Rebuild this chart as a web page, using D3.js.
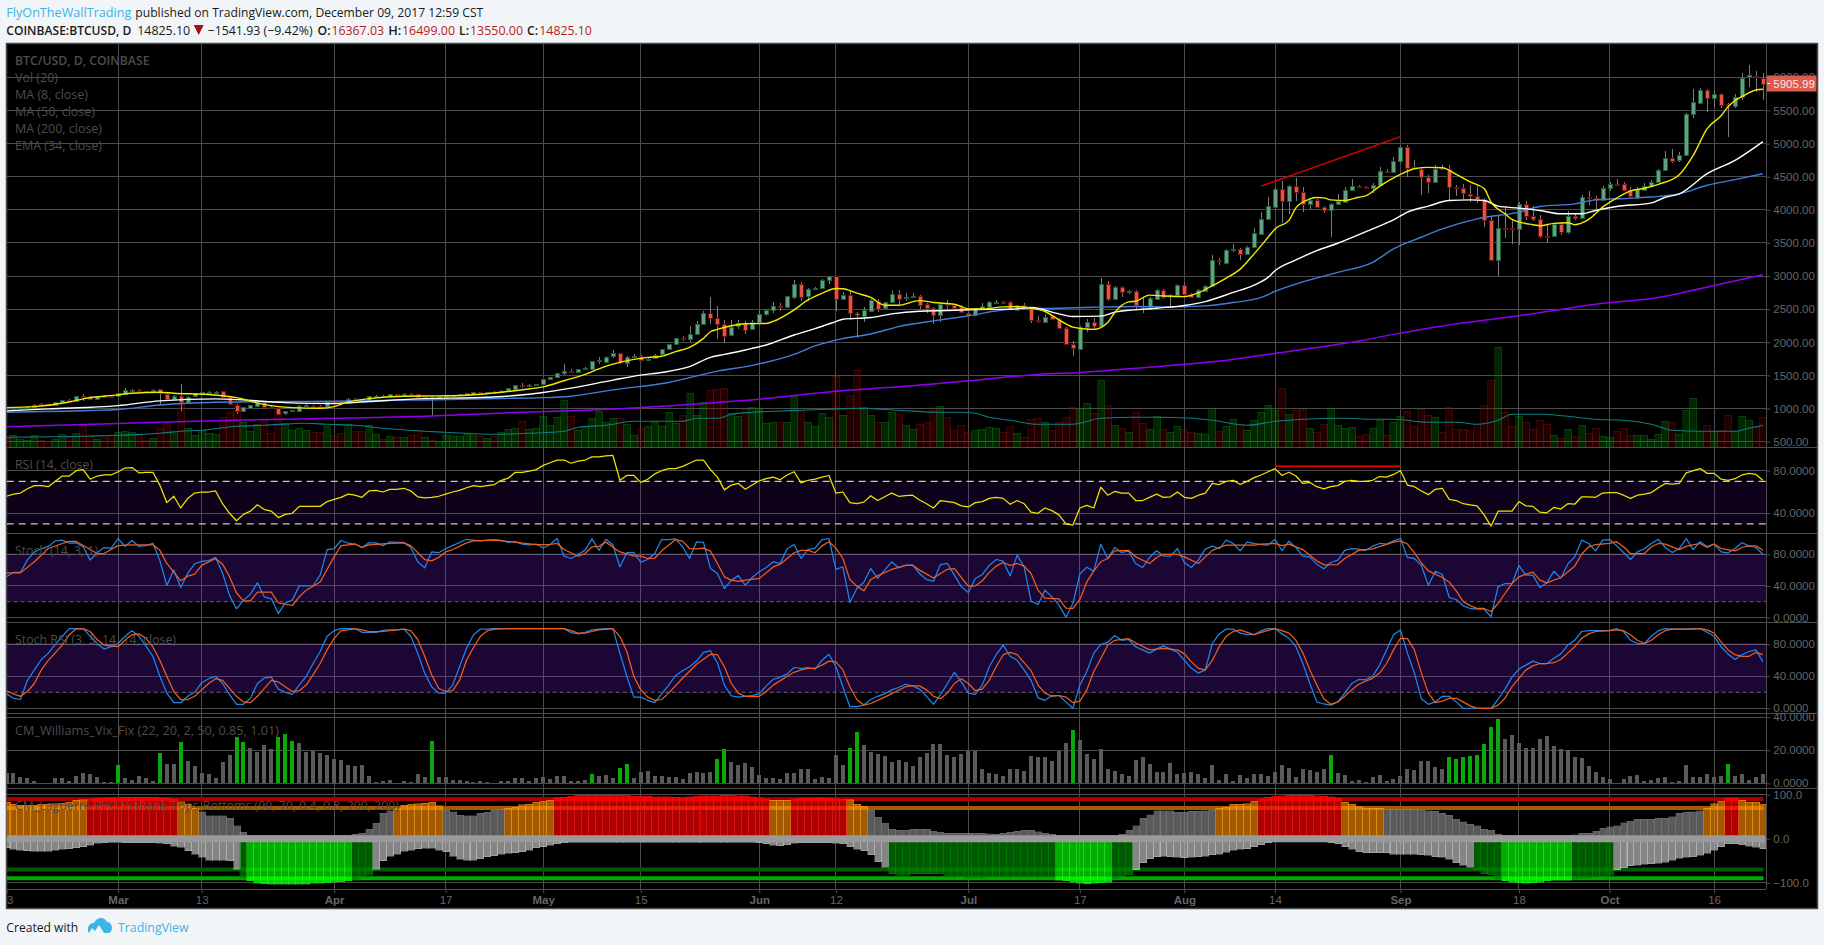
<!DOCTYPE html>
<html><head><meta charset="utf-8">
<script src="https://cdn.jsdelivr.net/npm/d3@7/dist/d3.min.js"></script>
<style>html,body{margin:0;padding:0;background:#f1f5f8;overflow:hidden}svg{display:block}</style>
</head><body><svg id="c" width="1824" height="945"></svg>
<script>
const firstDay = "2017-02-13", lastDay = "2017-10-23";
const tickDates = ["2017-02-13","2017-03-01","2017-03-13","2017-04-01","2017-04-17","2017-05-01","2017-05-15","2017-06-01","2017-06-12","2017-07-01","2017-07-17","2017-08-01","2017-08-14","2017-09-01","2017-09-18","2017-10-01","2017-10-16"];
const tickLabels = ["13","Mar","13","Apr","17","May","15","Jun","12","Jul","17","Aug","14","Sep","18","Oct","16"];
const opens = [1000,995,1008,1008,1025,1065,1062,1055,1090,1128,
1118,1188,1180,1150,1192,1195,1192,1225,1275,1285,
1265,1265,1288,1225,1150,1195,1100,1178,1228,1243,
1240,1258,1168,1060,968,1005,1045,1103,1030,1010,
925,955,975,1045,1045,1040,1035,1095,1095,1095,
1150,1140,1125,1185,1195,1180,1215,1210,1222,1215,
1172,1180,1175,1185,1190,1195,1210,1225,1245,1235,
1250,1248,1270,1283,1349,1352,1355,1370,1440,1470,
1525,1560,1540,1595,1597,1715,1705,1785,1835,1692,
1790,1800,1742,1768,1813,1894,1968,2060,2050,2120,
2270,2440,2365,2275,2100,2245,2290,2195,2300,2420,
2480,2545,2525,2695,2880,2690,2810,2815,2935,3000,
2645,2715,2440,2405,2480,2630,2510,2600,2725,2670,
2680,2700,2575,2515,2410,2572,2565,2530,2450,2420,
2510,2540,2605,2615,2610,2500,2560,2515,2335,2310,
2390,2345,2210,1970,1905,2230,2305,2250,2880,2660,
2835,2760,2770,2555,2530,2660,2790,2700,2720,2865,
2735,2690,2785,2843,3245,3200,3400,3410,3330,3435,
3640,3865,4055,4320,4145,4360,4270,4090,4150,4040,
4000,4085,4130,4300,4365,4340,4335,4380,4590,4570,
4740,4955,4640,4620,4500,4425,4625,4615,4345,4330,
4240,4210,4165,3845,3240,3725,3720,3710,4090,3905,
3865,3610,3605,3785,3665,3905,3880,4190,4175,4150,
4335,4395,4390,4300,4205,4310,4360,4425,4600,4775,
4740,4820,5440,5620,5815,5700,5755,5590,5570,5705,
5995,6020,5995];
const closes = [995,1008,1010,1030,1060,1060,1055,1095,1125,1118,
1190,1186,1150,1188,1190,1190,1232,1278,1285,1270,
1262,1285,1222,1150,1195,1102,1180,1228,1243,1245,
1252,1170,1060,965,1025,1050,1105,1028,1015,920,
960,975,1045,1048,1040,1037,1095,1090,1090,1152,
1142,1130,1185,1195,1180,1215,1210,1225,1218,1170,
1178,1170,1185,1190,1200,1215,1235,1250,1235,1250,
1240,1270,1305,1349,1345,1355,1370,1440,1470,1530,
1560,1550,1590,1605,1712,1730,1783,1833,1692,1783,
1795,1742,1755,1813,1894,1970,2060,2055,2120,2273,
2440,2360,2275,2100,2225,2290,2190,2300,2425,2485,
2545,2535,2695,2885,2690,2800,2820,2940,3000,2660,
2710,2440,2410,2490,2640,2510,2605,2725,2645,2690,
2695,2570,2510,2410,2575,2560,2525,2455,2420,2510,
2545,2610,2615,2605,2500,2555,2515,2335,2325,2380,
2340,2210,1970,1905,2235,2305,2250,2880,2660,2840,
2755,2770,2555,2540,2665,2790,2690,2720,2865,2735,
2690,2790,2855,3240,3230,3395,3410,3335,3440,3645,
3865,4055,4320,4145,4365,4270,4090,4150,4040,4000,
4090,4130,4305,4365,4350,4335,4380,4590,4580,4740,
4955,4645,4630,4500,4425,4615,4620,4350,4330,4250,
4210,4170,3850,3240,3720,3720,3715,4090,3910,3860,
3605,3605,3785,3665,3905,3875,4195,4180,4150,4330,
4390,4385,4300,4210,4320,4365,4425,4600,4775,4735,
4820,5440,5620,5815,5695,5755,5590,5585,5705,5995,
6030,6010,5905.99];
const highs = [1008,1015,1020,1040,1068,1085,1070,1100,1135,1140,
1195,1218,1190,1195,1200,1205,1240,1310,1295,1295,
1270,1290,1295,1232,1200,1370,1185,1235,1250,1268,
1258,1265,1175,1065,1030,1055,1110,1110,1035,1015,
965,980,1050,1065,1052,1050,1100,1100,1105,1165,
1165,1145,1195,1200,1200,1222,1225,1232,1230,1222,
1182,1185,1190,1195,1205,1220,1240,1255,1255,1255,
1258,1275,1310,1360,1385,1365,1378,1448,1480,1540,
1672,1590,1595,1620,1720,1780,1790,1880,1840,1790,
1825,1805,1765,1820,1900,1980,2070,2100,2240,2325,
2480,2690,2550,2340,2340,2330,2320,2330,2495,2495,
2605,2590,2700,2945,2905,2815,2830,2950,3005,3005,
2760,2775,2460,2530,2660,2650,2615,2790,2790,2740,
2750,2710,2590,2540,2590,2640,2575,2560,2465,2520,
2590,2630,2640,2630,2620,2570,2590,2525,2390,2420,
2410,2370,2230,2020,2245,2350,2370,2975,2920,2855,
2855,2795,2790,2680,2680,2800,2800,2730,2880,2890,
2750,2800,2870,3320,3280,3410,3480,3430,3450,3720,
3960,4200,4330,4430,4380,4480,4350,4170,4160,4050,
4100,4240,4350,4460,4380,4360,4400,4650,4610,4800,
4970,4985,4750,4640,4520,4680,4680,4680,4380,4390,
4380,4370,4180,3900,3920,4050,3850,4120,4130,4060,
3920,3790,3800,3820,3980,3950,4230,4280,4210,4360,
4420,4470,4420,4340,4350,4400,4450,4610,4890,4920,
4880,5460,5830,5840,5830,5800,5770,5610,5750,6070,
6180,6090,6070];
const lows = [985,990,1000,1002,1020,1045,1050,1050,1085,1110,
1112,1116,1145,1145,1182,1182,1185,1220,1268,1260,
1255,1260,1050,1145,1145,965,1090,1170,1220,1218,
1235,1160,1055,915,960,1000,1040,1020,1008,905,
900,950,970,1030,1030,1030,1030,1080,1080,1090,
1135,1120,1120,1178,1172,1175,1205,1205,1212,1165,
1165,900,1170,1180,1185,1190,1205,1220,1228,1230,
1235,1240,1265,1278,1310,1345,1350,1365,1435,1465,
1505,1545,1535,1580,1590,1670,1700,1770,1680,1630,
1760,1720,1735,1760,1810,1890,1960,2020,2010,2110,
2260,2270,2055,1990,2095,2200,2130,2190,2295,2390,
2450,2480,2520,2660,2620,2620,2800,2810,2880,2480,
2640,2330,2060,2300,2470,2465,2500,2595,2550,2620,
2670,2500,2450,2280,2300,2500,2510,2445,2410,2400,
2500,2530,2590,2590,2490,2490,2505,2290,2290,2290,
2330,2200,1960,1795,1895,2150,2200,2240,2620,2640,
2690,2730,2490,2440,2520,2650,2650,2530,2710,2720,
2680,2680,2770,2830,3170,3190,3370,3240,3320,3430,
3630,3850,4040,3800,3930,4140,3960,4010,4030,3950,
3590,4075,4100,4290,4340,4320,4250,4370,4560,4550,
4700,4500,4610,4230,4250,4415,4600,4150,4210,4160,
4120,4110,3740,3225,3000,3580,3480,3470,3850,3830,
3570,3500,3590,3620,3640,3840,3860,4080,4010,4140,
4280,4370,4280,4180,4160,4290,4345,4415,4590,4710,
4720,4810,5390,5590,5480,5550,5530,5100,5540,5660,
5855,5780,5660];
const volumes = [9,12,8,7,12,7,6,8,13,10,
14,22,11,8,10,12,15,16,15,12,
7,9,19,24,16,44,19,12,17,14,
13,30,35,44,25,16,23,27,14,36,
24,17,19,17,15,15,21,12,14,23,
16,16,22,13,8,11,10,10,12,17,
10,7,6,12,11,11,13,12,11,9,
11,15,18,19,26,18,19,31,22,30,
47,31,17,21,29,36,25,29,29,23,
12,19,21,25,21,35,24,32,54,32,
45,57,58,59,34,31,38,40,39,24,
25,25,25,51,36,25,21,34,30,71,
32,52,77,40,32,25,25,35,33,22,
18,23,25,37,41,30,17,22,15,17,
18,20,19,15,21,14,10,28,29,25,
17,25,30,40,39,44,34,67,42,22,
19,15,35,24,18,31,18,15,21,18,
15,14,13,39,16,21,28,23,17,27,
35,42,37,59,33,37,38,19,15,23,
39,22,19,20,11,13,19,27,12,25,
31,36,21,38,32,30,15,40,18,18,
17,23,42,67,100,35,21,31,25,18,
27,23,12,9,18,11,22,14,19,11,
10,16,19,12,12,12,8,13,26,25,
13,37,49,16,22,16,17,32,16,31,
27,20,30];
const volMA = [[0,10],[16,12],[22,14],[25,16],[28,17],[33,21],[37,22],[43,24],[46,23],[50,22],[54,19],[60,16],[63,15],[70,13],[75,14],[80,16],[82,20],[86,22],[90,26],[94,26],[97,26],[99,29],[102,29],[104,33],[107,35],[110,36],[114,37],[118,38],[122,39],[128,37],[134,35],[137,35],[139,34],[141,30],[144,27],[148,23],[153,23],[157,29],[162,30],[165,30],[170,29],[173,27],[178,22],[182,26],[186,28],[192,29],[196,28],[199,28],[204,25],[208,25],[211,23],[214,27],[216,33],[220,33],[224,31],[228,28],[232,27],[236,23],[239,17],[243,16],[248,16],[250,19],[252,22]];
const ma8 = [[0,1015],[4,1030],[9,1100],[11,1147],[16,1207],[18,1232],[22,1247],[24,1232],[29,1212],[33,1165],[37,1060],[39,1030],[41,1015],[45,1005],[47,1030],[49,1100],[52,1150],[57,1187],[62,1192],[66,1202],[71,1247],[74,1285],[77,1328],[80,1420],[83,1515],[85,1600],[87,1670],[90,1742],[92,1773],[94,1790],[96,1860],[98,1925],[100,2060],[101,2160],[102,2195],[104,2250],[106,2280],[109,2285],[110,2315],[113,2490],[115,2640],[117,2740],[119,2813],[120,2808],[122,2742],[124,2677],[126,2560],[128,2560],[131,2630],[133,2600],[136,2575],[138,2505],[140,2505],[143,2535],[145,2540],[147,2515],[149,2465],[151,2340],[153,2230],[155,2200],[156,2195],[158,2300],[159,2450],[161,2610],[162,2620],[164,2712],[166,2700],[169,2690],[171,2745],[173,2855],[175,2970],[177,3105],[179,3335],[181,3585],[182,3712],[184,3840],[185,4030],[187,4165],[188,4185],[189,4180],[190,4150],[192,4140],[194,4190],[195,4210],[197,4355],[200,4535],[202,4620],[204,4640],[206,4635],[208,4535],[210,4420],[212,4320],[213,4115],[215,3940],[216,3855],[219,3775],[220,3760],[222,3795],[224,3805],[225,3775],[227,3855],[229,4040],[231,4175],[233,4285],[235,4325],[237,4385],[240,4530],[242,4820],[244,5225],[246,5420],[247,5555],[248,5650],[249,5710],[251,5808],[252,5820]];
const ema34 = [[0,965],[6,995],[16,1045],[22,1116],[30,1147],[40,1090],[47,1076],[52,1106],[60,1150],[68,1167],[73,1197],[77,1243],[81,1308],[87,1430],[91,1505],[94,1545],[98,1632],[101,1773],[103,1818],[106,1884],[109,1960],[113,2110],[116,2207],[119,2313],[120,2349],[124,2374],[127,2430],[131,2470],[135,2480],[139,2495],[144,2500],[147,2525],[151,2430],[153,2390],[157,2395],[159,2455],[165,2515],[169,2555],[172,2615],[176,2753],[179,2864],[181,2980],[182,3081],[185,3243],[188,3384],[191,3495],[196,3712],[199,3848],[201,3965],[204,4055],[207,4140],[210,4150],[212,4140],[214,4055],[217,4025],[220,3990],[223,3940],[226,3940],[228,3990],[231,4050],[236,4105],[238,4190],[240,4240],[244,4545],[248,4747],[252,5030]];
const ma50 = [[0,945],[12,970],[16,985],[22,1055],[30,1096],[40,1106],[47,1110],[56,1126],[60,1130],[71,1152],[76,1162],[81,1187],[87,1283],[95,1394],[102,1566],[107,1652],[113,1818],[116,1945],[120,2056],[124,2126],[128,2237],[133,2323],[138,2399],[144,2500],[151,2515],[156,2530],[162,2540],[167,2535],[172,2550],[176,2600],[180,2677],[182,2768],[185,2879],[191,3056],[196,3207],[199,3409],[203,3586],[206,3712],[211,3864],[217,3965],[220,4050],[225,4090],[228,4150],[234,4180],[240,4240],[244,4370],[248,4455],[252,4545]];
const ma200 = [[0,727],[16,773],[30,818],[47,853],[60,884],[73,940],[80,965],[90,1010],[100,1076],[109,1152],[119,1263],[128,1328],[138,1420],[148,1515],[154,1545],[165,1632],[174,1717],[182,1833],[194,2020],[199,2120],[206,2248],[217,2400],[228,2576],[237,2677],[246,2880],[252,3020]];
const trendPrice = [[180.8,4358],[200,5105]];
const rsi = [56,58,59,63,66,66,65,70,75,75,
80,81,72,75,76,76,79,82.5,83,78,
78.5,78.5,66.5,50,56,45,54,59,60,60,
61,49,40,33,39,42,48,43.5,42,36,
39,40,46.5,46.5,46.5,46.5,51,53,55,58,
57,55,61,61.5,60,62.5,62.5,63.5,61,55.5,
54.5,55,56,58,60,61.5,64,66,65,66,
67,71,73,78.5,78.5,79.5,81,85,87.5,90,
90,87,89,90,93,93,94,94.5,71,75.5,
75.5,69,72,77,80,82,82,84,87,90,
90,81,74,62,66.5,68,62.5,66.5,70.5,72.5,
74,71.5,76,79,68.5,71,72,74,75.5,59,
60,50,49,50.5,56.5,52,55.5,59,56,56.5,
57,52.5,49,45,52,51,50,47,46,50,
51,54,55,54,48.5,52,49,41,40,45,
42.5,38.5,30,29,45,47.5,45,64.5,57,60.5,
59,59,52,52,55,58,55,55.5,60,55,
54,57,59,68,67,70,71,67,70,73.5,
76,79,82,75.5,78.5,75,68,69,65,63,
65,66,70,71,70,70,71,74.5,74,76.5,
80,66.5,65,61,57.5,62.5,63.5,53,52,49,
48,47,38.5,28,42,42,42,51,47,46.5,
41,40.5,45.5,44,49,48.5,55.5,55.5,55,59,
59.5,59.5,57,54,57,58,59.5,64,68,67.5,
68,78,80,82,77.5,77.5,72,71,72.5,76,
77.5,76.5,71];
const trendRsi = [[182,84.2],[200,84.2]];
const stochK = [51.5,57,57,73,83,87,90,97,98,94,
94.5,89.5,72.6,82,88.6,87.5,100,90,97.5,90,
91,94,72,40.5,60,38,56,68,71,72,
76,56,28,11,22,29.5,44,26,23.6,5,
18.6,22,40,40,40.5,53.6,86,87,97.5,94,
93,88.6,94.5,94.5,91,95.8,95,95,88.6,70.5,
63,83,82,87,91,95,99,98,97,98,
98.7,97.5,95,96,92.8,92,93,88,92.4,100,
77.6,74.7,79.7,85,99.6,85,99,92,64,82,
82,70,73.4,81,98.7,98.7,99.6,89.5,74.7,95.8,
95,62,55.7,36.7,47,53,41,50.6,57.8,63.3,
70.5,68.4,87,92.4,74.7,86,87.8,98.7,100,61,
64,19,36.7,44.7,62,49.4,60,70.5,63,66,
66.7,55.7,48,46,67,68.4,53.6,38.8,31.6,49.4,
54.4,66,73.4,71.3,52.7,79,64,20.7,16.5,34.6,
26,15.6,0.4,17.7,55,63.7,58.6,92.8,74.7,88.6,
82.3,84,68.4,63.3,76,84.4,78,77.6,87.3,69.6,
63.3,72.6,86.5,90.3,87,98,93.7,84.4,95.4,93.7,
92.4,91.6,99,84.8,96.6,88.6,77.6,76.4,67.5,61.6,
69.6,72.6,85,87.3,86.5,85,90.3,93.7,92.8,97,
100,76,74.7,66,40.5,58.6,54.4,25.3,22.8,14.8,
11.4,10.5,10.5,1,38.8,43,43,65.8,53.6,53.6,
38,43.9,58.6,49.8,67.5,76.8,97.9,93.7,84.4,97.9,
98.7,91,82.3,73.4,83,87,93.7,99,88.6,82.3,
87.3,100,86,96,90,92.8,83,81.9,87.3,95,
90.3,88.6,80];
const stochD = [[0,56.5],[2,56.5],[4,70.5],[6,87.3],[8,93.7],[9,96.3],[10,96.3],[12,86],[13,81],[14,81],[16,91],[17,91.5],[19,92],[21,92],[22,85],[23,68.4],[25,46.4],[26,52.3],[27,54.9],[28,66],[30,74.7],[31,67.5],[32,51.5],[33,31],[34,21],[35,21],[36,32],[38,32],[39,18.6],[41,15.2],[42,26.2],[43,34.6],[45,45],[47,76.8],[48,91],[50,93],[51,88.6],[52,92],[55,93.7],[57,94.5],[58,91],[60,73.4],[61,71.7],[62,76],[63,83],[64,86],[66,94.5],[67,97],[70,98],[73,95.4],[74,94],[76,92.4],[78,92.4],[79,93.7],[80,86],[82,77.6],[83,81],[84,89.5],[85,90],[86,95.4],[88,83],[90,78],[91,77.6],[92,74.7],[93,75],[94,84.4],[96,98.7],[97,96.6],[98,87.3],[99,87],[100,87.8],[101,84],[102,68.4],[103,51.5],[104,47.3],[105,45.6],[106,47.3],[108,49.4],[110,64],[111,67.5],[113,82],[114,85],[115,85],[116,82],[117,90.7],[118,95.8],[119,87.8],[120,74.7],[121,48],[122,39.7],[123,33.8],[124,48],[125,53],[127,60.8],[129,66],[130,66],[131,60],[133,50],[134,55.7],[135,61],[136,62],[137,50.6],[138,39.7],[139,40],[140,46.4],[141,57],[142,65],[143,69.6],[144,66],[145,68.4],[146,65],[147,55.7],[148,34.6],[149,24.5],[151,23.6],[152,12],[153,11.4],[154,22.8],[155,45],[156,59],[157,70.5],[158,74.7],[159,84.4],[161,85],[162,76.8],[164,68.4],[165,76],[166,80],[168,80],[169,76.8],[171,68.4],[172,76.8],[173,85],[174,88.6],[175,91.6],[179,91.6],[180,92.8],[182,93.7],[183,91],[184,92.8],[186,86],[187,78.9],[188,71.7],[189,66.7],[191,67],[192,74.7],[194,85],[195,86],[196,86.8],[199,95.4],[200,97],[201,93],[202,82],[203,69],[204,59],[206,50.6],[207,44.7],[208,33.8],[209,20],[210,15],[211,11.4],[212,11.4],[213,7.6],[214,17.7],[215,30.4],[216,43],[217,51.5],[218,55],[219,57.4],[220,47.3],[221,43.9],[223,50.6],[225,65],[226,80],[227,89.5],[228,92.4],[230,93.7],[231,96],[232,89.5],[233,81],[235,81],[236,89.5],[237,93.7],[238,92.8],[240,86],[241,90],[243,93.7],[244,88.6],[245,93],[246,87.3],[248,84.4],[249,88.6],[250,90.7],[251,90.7],[252,85]];
const srsiK = [18,12.5,11,35,48,61,69,80,90,99.6,
99.6,99.6,90,81,74,77,81,90,97,90,
78,65,40,19,7,7,15,20,32,37,
40,31,17,5,5,12.5,31,38,39,24,
20,17.5,29,40,56,71,90,97,99.6,99.6,
99.6,95,95,95,97.5,98,98,99,90,69,
44,27,19,19,29,52,75,92,99,99,
99.6,99.6,99.6,99.6,99.6,99.6,99.6,99.6,99.6,99.6,
99.6,94.6,93,95,98,99,99.6,99.6,69,40,
14,14,10,7,18,29,41,47,52,59,
70,72,57,29,15.4,14,15,16,18,28,
36,39,43,51,50,51,49,60,67.5,52,
27,2,2,4,11,15,18,23,26,30,
28,24,15,5,17,31,45,33,19,17.5,
29,52,67,79,65,60,48,35,13,10,
16,16,8,0,29,46,69,80,82.5,91,
85,86,77,73,69,74,78,74,70,60,
50,44,48,81,93,99,99,94,92,92,
97,99.6,99.6,93,87.5,77,56,31,8,5.4,
4,8,19,31,36,36,40,54,73,92,
98,69,44,12,5,8,15,15,8,0,
0,0,0,0,11,24,39,49,54,59,
56,56,62.5,68,79,85,96,97,97,97,
97,99.6,96,85,81,81,90,97,99.6,99,
99,99,99.6,99.6,95,90,77,68,61,67,
71,73,58];
const srsiD = [[0,22],[1,18],[2,15],[3,21],[4,31],[5,48],[6,60],[8,79],[9,92],[10,99],[11,99.6],[12,96],[13,86],[14,79],[16,77],[17,85],[18,92],[19,93],[20,87.5],[21,77],[22,60],[23,40],[24,21],[25,11],[26,11],[27,15],[28,23],[29,31],[30,37],[31,35],[32,25],[33,15],[34,8],[35,7],[36,15],[37,25],[38,35],[39,33],[40,27],[41,21],[42,22],[43,29],[44,42],[45,56],[46,73],[47,87.5],[48,97],[49,98],[50,99.6],[51,98],[52,96],[54,96],[57,99],[58,97],[59,86],[60,65],[61,42],[62,25],[63,21],[64,22],[65,35],[66,60],[67,76],[68,90],[69,97],[70,99],[72,99.6],[80,99.6],[81,97],[82,94],[83,94],[84,96],[85,98],[87,99.6],[88,90],[89,71],[90,40],[91,23],[92,14],[93,10],[94,11],[95,19],[97,37.5],[99,55],[101,67.5],[102,67],[103,52],[104,31],[105,19],[106,15],[108,15],[109,21],[110,29],[112,40],[113,45],[114,48],[115,50],[116,50],[117,54],[118,59],[119,58],[120,48],[121,27],[122,11],[123,4],[124,6],[126,14],[129,27],[130,28],[131,28],[132,23],[133,15],[134,12],[135,19],[136,31],[137,37],[138,31],[139,22],[140,24],[141,35],[142,52],[143,67],[144,70],[145,67],[146,57],[147,47],[148,29],[149,19],[150,15],[151,16],[152,14],[153,7],[154,9],[155,23],[156,46],[157,62],[158,79],[159,85],[161,87],[162,82],[164,73],[166,75],[168,73],[169,68],[170,58],[171,50],[172,48],[173,60],[174,77],[175,90],[176,96],[177,98],[178,95],[179,92],[180,95],[182,99.6],[183,97],[184,94],[185,85],[186,69],[187,48],[188,29],[189,12],[190,5],[191,8],[192,15],[193,23],[194,30],[195,34],[196,37.5],[197,44],[198,56],[199,73],[200,87.5],[201,87],[202,73],[203,44],[204,19],[205,7],[206,9],[207,12.5],[208,12.5],[209,8],[210,3],[211,0],[213,0],[214,4],[215,12.5],[216,27],[217,37.5],[218,48],[219,53],[220,56],[221,56],[222,57],[223,61],[224,69],[225,77],[226,87.5],[227,93],[228,96],[230,97],[231,98],[232,97],[233,92],[234,85],[235,81],[236,85],[237,92],[238,97],[239,99],[242,99],[243,99.6],[244,98],[245,94],[246,83],[247,73],[248,67],[249,65],[250,65],[251,70],[252,67]];
const vixFix = [6,6,3.6,3.2,1.4,0.2,0.2,3,3,1.4,
4.4,6,5.7,3.6,0.6,0.6,11,3.2,2,4.4,
3.2,1.4,18.4,12,11.5,25,13.5,10.5,6.3,5.7,
3.2,13,17,28,25,21.4,19,23,21,28,
30,25.7,24.4,19,19.6,18.4,17,14.7,14,11,
10.5,11,4.4,0.8,1.2,2,0.2,1.2,0.6,5.7,
3.8,25.7,3.8,3.8,2,2,1.2,0.8,1.2,0.6,
0.2,1.2,1.2,3.2,3.2,1.4,3.2,3.8,2.6,4.4,
4.4,1.2,1.2,2,5.7,4.4,5,3.2,9.3,11.7,
3.2,6.9,7.5,4.4,4.4,3.8,3.8,2.6,6.3,6.9,
6.3,6.9,14.7,20.8,13,11,12.3,9.9,5,3.2,
3.2,2.6,6.3,6.3,8.7,8.7,2.6,3.8,3.2,17,
11,21.4,31,23,19,17.8,16.6,13,14,13,
10.5,16,18.4,23.8,23.8,17,16,17.8,19.6,19.6,
8.7,6.3,5.7,4.4,8.7,8.7,7.5,16.6,16,16,
13.5,19.6,24.4,32.3,26.3,17.8,14.7,20.8,8.7,7.5,
5.7,4.4,14,16,11.7,6.9,6.9,12.3,5.7,6.3,
6.9,5.7,3.2,11,2,5.7,1.4,5,3.2,5.7,
5.7,4.4,6.9,11,9.3,3.8,8.7,8,6.9,8.7,
17,6.3,5,1.4,2,0.8,3.8,5,1.4,2.6,
4.4,8.7,8,13.5,13.5,9.9,8.7,16,14.7,16,
16.6,17,23.8,34,39,26.9,29.3,24.4,21.4,21.4,
26.9,28.7,22.6,20.8,20.2,16,15.4,10.5,6.9,3.8,
2.6,0.2,2.6,4.4,5,1.4,2,3.2,3.8,0.8,
1.4,11,3.8,3.8,5.7,3.8,4.4,11.7,4.4,5.7,
2,3.8,5.7];
const vixAlerts = [16,22,25,33,34,39,40,41,61,84,88,89,102,103,121,122,153,190,207,208,209,210,211,212,213,214,247];
const lagTop = [82.6,78,76.5,76.5,76.5,78,78,79.5,81,83.3,
87,88,89.4,91.7,92.4,93.2,93.2,94,94.7,94.7,
94.7,94.7,93.2,92.4,90,84,78.8,69,61.4,52.3,
52.3,52.3,46,30,14.4,8.3,8,7.6,7.6,7.6,
7.6,7.6,7.6,7.6,7.6,7.6,7.8,8,8,8,
10,12,21,35,57.6,63.6,68,76.5,78,79.5,
81,82.6,75,64.4,61.4,53,52,52,57.6,60,
65,66.7,69.7,72,77.3,78.8,83.3,85.6,87,93,
94.7,97,98.5,98.5,98.5,98.5,98.5,98.5,98.5,98.5,
97,97,97,95.5,95.5,95,94,93,95.5,96.5,
97.7,98,98,98.5,98.5,98,97.7,95.5,93,90,
87,87,87,90,91.7,92.4,92.4,93,92.4,91,
89.4,88,78.8,74,65,48.5,35,21,19.7,19.7,
21,21,21,16.7,15,12,12,12,12,12,
12,11,10,12,15,17.4,19.7,19.7,16,12,
10,8.3,8.3,8.3,8.3,8.3,8.3,8.3,8.3,8.3,
10,19.7,30,46,55,63,63,63,60.6,60,
62,62,63.6,65,69,72,78,78,80,85.6,
90,94.7,97,97.7,98.5,98.5,98.5,98.5,97.7,96,
95.5,92.4,83.3,78,72.7,69.7,69,69,66.7,66.7,
66.7,66.7,66.7,66,63.6,62,57.6,53,44,38,
33,29,21,19,10.6,8.3,8.3,8.3,8.3,8.3,
8.3,8.3,8.3,8.3,8.3,8.6,12,12,17.4,23.5,
27,30,36,40,44,44,44,46,46,50,
57.6,60,61.4,63.6,69,80,85,92.4,91.7,87,
82.6,82.6,78.8];
const lagBottom = [-21,-23.5,-25.8,-27,-28,-28,-28,-25.8,-24,-22.7,
-20.5,-18,-14.4,-10.6,-9,-8.3,-8.5,-9,-9,-9,
-9,-9,-10.6,-12,-16.7,-19.7,-27,-35,-41.7,-48.5,
-48.5,-48.5,-50,-69,-90,-96,-100.8,-102,-103,-103,
-103,-103,-103,-103,-101.5,-100.8,-100,-99,-97.7,-95.5,
-94,-88,-83,-69,-50,-39.4,-35.6,-28.8,-25.8,-22.7,
-22,-22,-25.8,-29.5,-39.4,-47,-48.5,-48.5,-45.5,-41,
-38.6,-35,-33,-32,-29.5,-26.5,-21,-18,-14.4,-12,
-9,-8.3,-7.6,-7.6,-7.6,-7.6,-7.6,-7.6,-7.6,-7.6,
-7.6,-7.6,-7.6,-7.6,-7.6,-7.6,-7.6,-7.6,-7.6,-7.6,
-7.6,-7.6,-7.6,-7.6,-7.6,-7.6,-7.6,-7.6,-9,-11.4,
-14.4,-16,-13.6,-10.6,-9,-9,-9,-9,-9,-10.6,
-12,-18,-24,-27,-37,-52,-65,-80,-82.6,-82.6,
-80,-80,-80,-80,-80,-85,-86,-87,-89.4,-90,
-89.4,-88,-86,-86,-86,-86,-86,-86,-86,-86,
-86,-94,-96,-99,-100.8,-102,-101.5,-100,-98.5,-92.4,
-86,-82,-70,-54.5,-45.5,-41,-39.4,-41,-42.4,-43,
-42.4,-41,-39.4,-37,-35.6,-31,-25.8,-24,-22.7,-18,
-13.6,-9,-6.8,-6,-6,-6,-6,-6,-6,-6,
-9,-12,-18,-24,-29.5,-32,-32,-32,-32,-35,
-35,-35,-35,-36.4,-38,-41,-42.4,-47,-54.5,-60,
-65,-71,-80,-82,-92.4,-96,-98.5,-100,-100.8,-100,
-98.5,-96,-94,-94,-94,-92.4,-90,-88.6,-86,-86,
-82.6,-71,-66,-62,-60,-58,-57,-56,-54,-48.5,
-44.7,-42.4,-41,-38,-33,-25.8,-18,-12,-12,-13.6,
-16.7,-19.7,-22.7];
const lagTopRuns = [[0,"warn"],[12,"hot"],[25,"warn"],[28,"flat"],[56,"warn"],[63,"flat"],[72,"warn"],[79,"hot"],[110,"warn"],[113,"hot"],[121,"warn"],[124,"flat"],[174,"warn"],[180,"hot"],[192,"warn"],[198,"flat"],[244,"warn"],[247,"hot"],[249,"warn"]];
const lagBottomRuns = [[0,"flat"],[34,"warn"],[35,"hot"],[50,"warn"],[53,"flat"],[127,"warn"],[151,"hot"],[159,"warn"],[162,"flat"],[211,"warn"],[215,"hot"],[225,"warn"],[231,"flat"]];
const lagLevels = [90,70,-70,-90];
const priceTicks = [500,1000,1500,2000,2500,3000,3500,4000,4500,5000,5500,6000];

const svg = d3.select("#c");
const R = 1766.3, L = 6.7, T = 44, B = 889.3;
const day = i => d3.utcDay.offset(new Date(firstDay), i);
const x = d3.scaleUtc().domain([new Date(firstDay), new Date(lastDay)]).range([6.5, 1762.9]);
const X = i => x(day(i));
const pY = d3.scaleLinear().domain([500,6000]).range([441.7,77.3]);
const vY = d3.scaleLinear().domain([0,100]).range([447.3,347.3]);
const rY = d3.scaleLinear().domain([40,80]).range([513.3,470.7]);
const sY = d3.scaleLinear().domain([0,80]).range([617.5,554.3]);
const qY = d3.scaleLinear().domain([0,80]).range([708.3,644.3]);
const fY = d3.scaleLinear().domain([0,40]).range([783.3,717.3]);
const lY = d3.scaleLinear().domain([-100,100]).range([882.7,794.7]);

svg.append("rect").attr("x",6.5).attr("y",43.5).attr("width",1811).attr("height",865).attr("fill","#000").attr("stroke","#4a4a4a").attr("stroke-width",1.5);
const defs = svg.append("defs");
defs.append("clipPath").attr("id","plot").append("rect").attr("x",L).attr("y",T).attr("width",R-L).attr("height",B-T);
const plot = svg.append("g").attr("clip-path","url(#plot)");
const GRID = "#4c4c4c";

// grid
const gridG = plot.append("g").attr("stroke",GRID).attr("stroke-width",1).attr("shape-rendering","crispEdges");
tickDates.slice(1).forEach(d=>{const xx=x(new Date(d));gridG.append("line").attr("x1",xx).attr("x2",xx).attr("y1",T).attr("y2",B);});
const hGrid = (scale,vals)=>vals.forEach(v=>gridG.append("line").attr("x1",L).attr("x2",R).attr("y1",scale(v)).attr("y2",scale(v)));
hGrid(pY,priceTicks); hGrid(rY,[80,40]); hGrid(sY,[80,40,0]); hGrid(qY,[80,40,0]); hGrid(fY,[40,20,0]); hGrid(lY,[100,0,-100]);

// bands
const band=(scale,a,b,fill)=>plot.append("rect").attr("x",L).attr("width",R-L).attr("y",scale(a)).attr("height",scale(b)-scale(a)).attr("fill",fill);
band(rY,70,30,"rgba(128,20,255,0.10)");
band(sY,80,20,"rgba(140,30,255,0.20)");
band(qY,80,20,"rgba(140,30,255,0.20)");
const dash=(scale,v,col,da,w)=>plot.append("line").attr("x1",L).attr("x2",R).attr("y1",scale(v)).attr("y2",scale(v)).attr("stroke",col).attr("stroke-dasharray",da).attr("stroke-width",w);
dash(rY,70,"#c9c9c9","7 5",1.2); dash(rY,30,"#c9c9c9","7 5",1.2);
dash(sY,20,"#6d5f7e","4 3",1); dash(qY,20,"#6d5f7e","4 3",1);
[sY,qY].forEach(s=>plot.append("line").attr("x1",L).attr("x2",R).attr("y1",s(80)).attr("y2",s(80)).attr("stroke","#6d5f7e"));

// volume
const idx = d3.range(opens.length);
const isUp = i => closes[i]>=opens[i];
plot.append("g").attr("shape-rendering","crispEdges").selectAll("rect").data(idx).join("rect")
 .attr("x",i=>Math.round(X(i))-3.5).attr("width",7)
 .attr("y",i=>vY(volumes[i])).attr("height",i=>vY(0)-vY(volumes[i]))
 .attr("fill",i=>isUp(i)?"rgba(0,128,0,0.30)":"rgba(128,0,0,0.27)")
 .attr("stroke",i=>isUp(i)?"rgba(30,130,30,0.28)":"rgba(130,30,30,0.28)");

// lines
const ln = (scale,curve) => d3.line().x(d=>X(d[0])).y(d=>scale(d[1])).curve(curve||d3.curveLinear);
const draw=(g,data,scale,col,w,curve)=>g.append("path").attr("d",ln(scale,curve)(data)).attr("fill","none").attr("stroke",col).attr("stroke-width",w).attr("stroke-linejoin","round");
const perBar = arr => arr.map((v,i)=>[i,v]);
draw(plot,volMA,vY,"#0e7d80",1.1,d3.curveMonotoneX);

// candles
const cg = plot.append("g");
cg.append("g").attr("stroke","#7c7c7c").attr("shape-rendering","crispEdges").selectAll("line").data(idx).join("line")
 .attr("x1",i=>Math.round(X(i))+.5).attr("x2",i=>Math.round(X(i))+.5)
 .attr("y1",i=>pY(highs[i])).attr("y2",i=>pY(lows[i]));
cg.append("g").attr("shape-rendering","crispEdges").selectAll("rect").data(idx).join("rect")
 .attr("x",i=>Math.round(X(i))-2+.5).attr("width",4)
 .attr("y",i=>Math.round(pY(Math.max(opens[i],closes[i])))+.5)
 .attr("height",i=>Math.max(1,Math.round(Math.abs(pY(opens[i])-pY(closes[i])))))
 .attr("fill",i=>isUp(i)?"#669f84":"#e25542")
 .attr("stroke",i=>isUp(i)?"#1f5f38":"#6b1410");

draw(plot,ma200,pY,"#9000ee",1.5,d3.curveMonotoneX);
draw(plot,ma50,pY,"#3f7fd8",1.4,d3.curveMonotoneX);
draw(plot,ema34,pY,"#ffffff",1.4,d3.curveMonotoneX);
draw(plot,ma8,pY,"#f4ea00",1.4,d3.curveMonotoneX);
draw(plot,trendPrice,pY,"#e00000",1.4);

// oscillators
draw(plot,perBar(rsi),rY,"#efe400",1.25);
draw(plot,trendRsi,rY,"#f00000",1.4);
draw(plot,perBar(stochK),sY,"#1e86ee",1.25);
draw(plot,stochD,sY,"#ee5f1e",1.25);
draw(plot,perBar(srsiK),qY,"#1e86ee",1.25);
draw(plot,srsiD,qY,"#ee5f1e",1.25);

// vix
plot.append("g").attr("shape-rendering","crispEdges").selectAll("rect").data(idx).join("rect")
 .attr("x",i=>Math.round(X(i))-2).attr("width",4)
 .attr("y",i=>fY(vixFix[i])).attr("height",i=>fY(0)-fY(vixFix[i]))
 .attr("fill",i=>vixAlerts.includes(i)?"#0aa80a":"#5a5a5a");

// laguerre
const kind=(runs,i)=>{let k=runs[0][1];for(const r of runs){if(i>=r[0])k=r[1];}return k;};
const topFill={hot:"rgba(255,0,0,0.68)",warn:"rgba(255,140,0,0.64)",flat:"rgba(128,128,128,0.70)"};
const topEdge={hot:"rgba(255,40,40,0.30)",warn:"rgba(255,170,40,0.38)",flat:"rgba(140,140,140,0.25)"};
const botFill={hot:"rgba(0,255,0,0.68)",warn:"rgba(0,128,0,0.70)",flat:"rgba(190,190,190,0.70)"};
const botEdge={hot:"rgba(60,255,60,0.30)",warn:"rgba(0,150,0,0.30)",flat:"rgba(220,220,220,0.30)"};
const levelCols=["#a80000","#a85a00","#005c00","#00a800"];
lagLevels.forEach((v,k)=>plot.append("line").attr("x1",L).attr("x2",1763.5).attr("y1",lY(v)).attr("y2",lY(v)).attr("stroke",levelCols[k]).attr("stroke-width",4));
const lg = plot.append("g").attr("shape-rendering","crispEdges");
lg.selectAll(".t").data(idx).join("rect").attr("class","t")
 .attr("x",i=>Math.round(X(i))-3.5).attr("width",7)
 .attr("y",i=>lY(lagTop[i])).attr("height",i=>lY(0)-lY(lagTop[i]))
 .attr("fill",i=>topFill[kind(lagTopRuns,i)]).attr("stroke",i=>topEdge[kind(lagTopRuns,i)]);
lg.selectAll(".b").data(idx).join("rect").attr("class","b")
 .attr("x",i=>Math.round(X(i))-3.5).attr("width",7)
 .attr("y",lY(0)).attr("height",i=>lY(lagBottom[i])-lY(0))
 .attr("fill",i=>botFill[kind(lagBottomRuns,i)]).attr("stroke",i=>botEdge[kind(lagBottomRuns,i)]);
lg.selectAll(".ht").data(idx.filter(i=>kind(lagTopRuns,i)==="hot"&&lagTop[i]>84)).join("rect").attr("class","ht")
 .attr("x",i=>Math.round(X(i))-3.5).attr("width",7).attr("y",i=>lY(lagTop[i])).attr("height",i=>lY(84)-lY(lagTop[i])).attr("fill","rgba(255,0,0,0.40)");
lg.selectAll(".hb").data(idx.filter(i=>kind(lagBottomRuns,i)==="hot"&&lagBottom[i]<-86)).join("rect").attr("class","hb")
 .attr("x",i=>Math.round(X(i))-3.5).attr("width",7).attr("y",lY(-86)).attr("height",i=>lY(lagBottom[i])-lY(-86)).attr("fill","rgba(0,255,0,0.40)");
plot.append("line").attr("x1",L).attr("x2",1765).attr("y1",lY(0)).attr("y2",lY(0)).attr("stroke","#9a9a9a").attr("stroke-width",7);

// separators and axes
const sepG = svg.append("g").attr("stroke","#4c4c4c").attr("shape-rendering","crispEdges");
[447.5,533.3,622,713.3,788.3].forEach(y=>sepG.append("line").attr("x1",L).attr("x2",1817).attr("y1",y).attr("y2",y));
sepG.append("line").attr("x1",R).attr("x2",R).attr("y1",T).attr("y2",B);
sepG.append("line").attr("x1",L).attr("x2",R).attr("y1",B).attr("y2",B);

const styleAxis = g => { g.select(".domain").remove(); g.selectAll("line").attr("stroke","#4c4c4c");
  g.selectAll("text").attr("fill","#666").attr("font-family","'Liberation Sans',Arial,sans-serif").attr("font-size",11.5); };
const yAxis=(scale,vals,fmt)=>svg.append("g").attr("transform",`translate(${R},0)`)
  .call(d3.axisRight(scale).tickValues(vals).tickFormat(fmt).tickSize(4).tickPadding(3)).call(styleAxis);
yAxis(pY,priceTicks,d3.format(".2f"));
yAxis(rY,[80,40],d3.format(".4f"));
yAxis(sY,[80,40,0],d3.format(".4f"));
yAxis(qY,[80,40,0],d3.format(".4f"));
yAxis(fY,[40,20,0],d3.format(".4f"));
yAxis(lY,[100,0,-100],d3.format(".1f"));

defs.append("clipPath").attr("id","axisclip").append("rect").attr("x",L).attr("y",B).attr("width",R-L+30).attr("height",20);
svg.append("g").attr("clip-path","url(#axisclip)").append("g").attr("transform",`translate(0,${B})`)
  .call(d3.axisBottom(x).tickValues(tickDates.map(d=>new Date(d))).tickFormat((d,i)=>tickLabels[i]).tickSize(4).tickPadding(3))
  .call(styleAxis)
  .selectAll("text").attr("font-weight",(d,i)=>/[A-Za-z]/.test(tickLabels[i])?"bold":"normal");

// last price marker
svg.append("rect").attr("x",R+.5).attr("y",pY(closes[252])-8).attr("width",1817-R-1).attr("height",16).attr("fill","#db5a4c");
svg.append("line").attr("x1",R+1).attr("x2",R+4).attr("y1",pY(closes[252])).attr("y2",pY(closes[252])).attr("stroke","#fff");
svg.append("text").attr("x",R+7).attr("y",pY(closes[252])+4).attr("fill","#fbe9e6").attr("font-family","'Liberation Sans',Arial,sans-serif").attr("font-size",11.5).text(d3.format(".2f")(closes[252]));

// text helper
const FONT="'Open Sans','Noto Sans',sans-serif";
const txt=(s,xx,y,w,col,weight,size)=>{const t=svg.append("text").attr("x",xx).attr("y",y).attr("fill",col).attr("font-family",FONT).attr("font-size",size||13).attr("font-weight",weight||"normal").text(s);
  if(w)t.attr("textLength",w).attr("lengthAdjust","spacingAndGlyphs");return t;};
const LEG="#4d4d4d";
txt("BTC/USD, D, COINBASE",15,65,134.5,LEG,"600");
txt("Vol (20)",15,82,43,LEG);
txt("MA (8, close)",15,99,73,LEG);
txt("MA (50, close)",15,116,80,LEG);
txt("MA (200, close)",15,133,87,LEG);
txt("EMA (34, close)",15,150,87,LEG);
txt("RSI (14, close)",15,469,78,LEG);
txt("Stoch (14, 3, 1)",15,555,83,LEG);
txt("Stoch RSI (3, 3, 14, 14, close)",15,644,161,LEG);
txt("CM_Williams_Vix_Fix (22, 20, 2, 50, 0.85, 1.01)",15,735,264,LEG);
txt("CM_Laguerre PPO PctRank Tops-Bottoms (90, 70, 0.4, 0.8, 200, 200)",15,810,384,LEG);

// header
const BLUE="#3db3e6", RED="#b71c1c", INK="#1a1a1a";
txt("FlyOnTheWallTrading",6.3,17,125,BLUE);
txt("published on TradingView.com, December 09, 2017 12:59 CST",135.3,17,348,INK);
txt("COINBASE:BTCUSD, D",6.3,34.5,125,INK,"600");
txt("14825.10",137.2,34.5,53,INK);
svg.append("path").attr("d",d3.line()([[193.7,25],[203.6,25],[198.7,35]])+"Z").attr("fill","#a50f0f");
txt("\u22121541.93 (\u22129.42%)",207.6,34.5,105,INK);
txt("O:",317.5,34.5,13,INK,"600"); txt("16367.03",331.4,34.5,52.6,RED);
txt("H:",388.3,34.5,13,INK,"600"); txt("16499.00",402,34.5,53,RED);
txt("L:",459,34.5,10,INK,"600");  txt("13550.00",470,34.5,53,RED);
txt("C:",527,34.5,11,INK,"600");  txt("14825.10",539.3,34.5,52.6,RED);

// footer
txt("Created with",6.3,932,72,INK);
txt("TradingView",118,932,70.6,BLUE);
svg.append("path").attr("fill",BLUE).attr("d","M88 929 C88 925 91 923 94 923 C95 920 98 918 101 918 C104 918 106 920 107 922 C110 922 112 925 112 928 C112 931 110 933 108 933 L104 933 L99 925 L95 931 L92 928 L89 933 C88 932 88 931 88 929 Z");
</script></body></html>
